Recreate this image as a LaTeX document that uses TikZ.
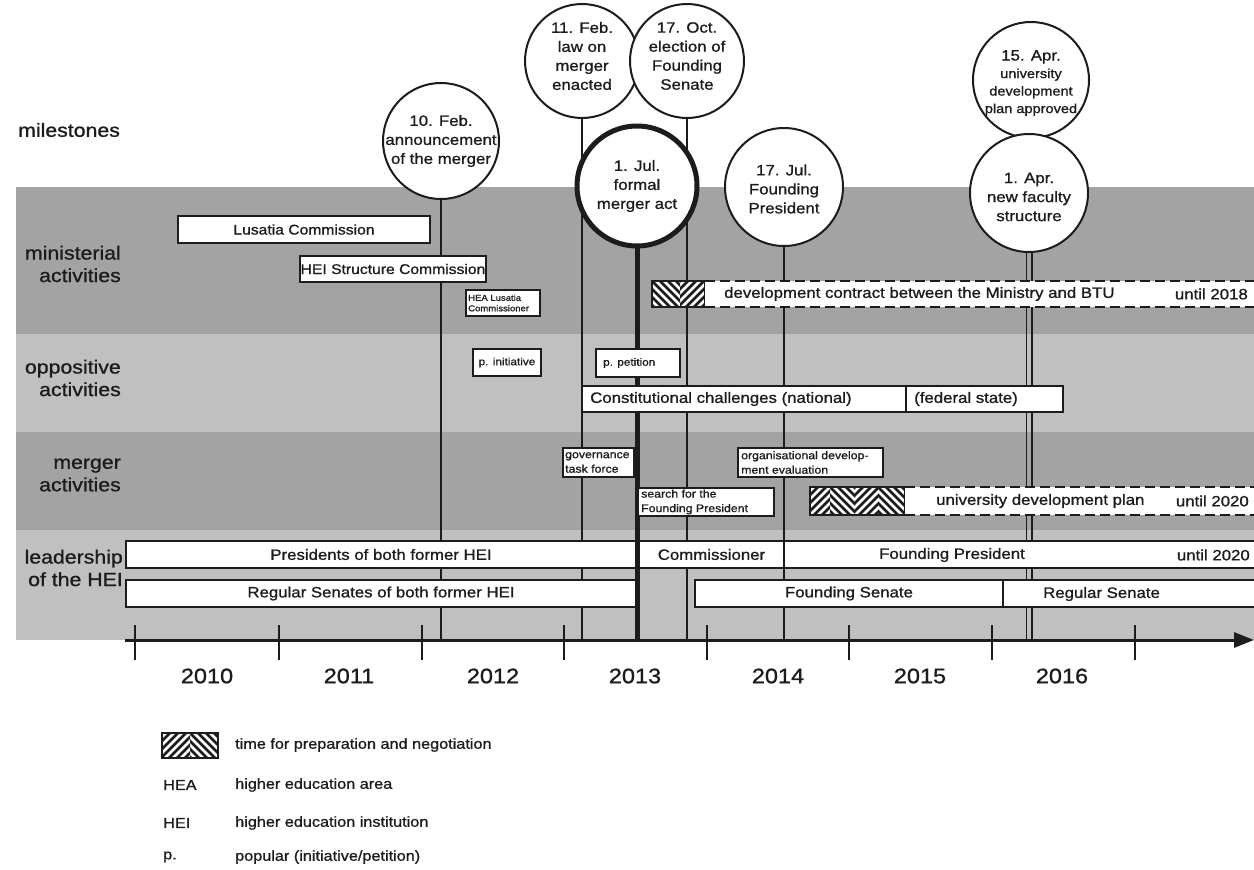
\documentclass[tikz,border=0pt]{standalone}
\usepackage{fontspec}
\setmainfont{Liberation Sans}[FakeStretch=1.12,FakeBold=1]
\usetikzlibrary{arrows.meta}
\pgfdeclarelayer{bg}
\pgfdeclarelayer{ln}
\pgfsetlayers{bg,ln,main}
\definecolor{dband}{RGB}{163,163,163}
\definecolor{lband}{RGB}{192,192,192}
\definecolor{ink}{RGB}{28,28,28}
\newcommand\fsz[2]{\fontsize{#1}{#2}\selectfont}
\newcommand\bx[7][]{\node[box,anchor=north west,minimum width={(#5-#3)*1pt},minimum height={(#6-#4)*1pt},#1] (#2) at (#3,#4) {#7};}
\newcommand\hatch[5]{%
 \begin{scope}
  \clip (#1,#2) rectangle (#3,#4);
  \fill[white] (#1,#2) rectangle (#3,#4);
  \foreach \ha/\hb/\hd in {#5}{%
   \begin{scope}
    \clip (\ha,#2) rectangle (\hb,#4);
    \foreach \hk in {-64,-56,...,144}{%
     \draw[line width=2.6pt,ink] ({\ha+\hk},#2) -- ++({\hd*(#4-#2)},{#4-#2});
    }
   \end{scope}
  }
 \end{scope}
 \draw[line width=1.6pt,ink] (#1,#2) rectangle (#3,#4);
}
\begin{document}
\begin{tikzpicture}[x=1pt,y=-1pt,
  every node/.append style={text=ink},
  box/.style={draw=ink,line width=1.8pt,fill=white,inner sep=0pt,outer sep=0pt,font=\fsz{15}{18}},
  circ/.style={draw=ink,line width=2pt,fill=white,circle,inner sep=0pt,outer sep=0pt},
  ctext/.style={align=center,font=\fsz{15}{19},inner sep=0pt},
  vline/.style={draw=ink,line width=1.8pt},
  rowlab/.style={align=right,anchor=east,inner sep=0pt,font=\fsz{19}{22.5}},
  txt/.style={inner sep=0pt,font=\fsz{15}{18}},
  small/.style={inner sep=0pt,align=left,anchor=west,font=\fsz{11}{14.5}},
  year/.style={inner sep=0pt,font=\fsz{21}{24}},
  leg/.style={anchor=west,inner sep=0pt,font=\fsz{14.5}{17}},
  dsh/.style={draw=ink,line width=2pt,dash pattern=on 10pt off 5pt},
  dbox/.style={fill=white,anchor=north west,inner sep=0pt,outer sep=0pt}]
\useasboundingbox (0,0) rectangle (1254,870);
% bands
\begin{pgfonlayer}{bg}
\fill[white] (0,0) rectangle (1254,870);
\fill[dband] (16,187) rectangle (1254,334);
\fill[lband] (16,334) rectangle (1254,432);
\fill[dband] (16,432) rectangle (1254,530);
\fill[lband] (16,530) rectangle (1254,640);
\end{pgfonlayer}
% row labels
\node[anchor=west,inner sep=0pt,font=\fsz{19}{22.5}] (lmil) at (18,130) {milestones};
\node[rowlab] (lmin) at (121,264) {ministerial\\activities};
\node[rowlab] (lopp) at (121,378) {oppositive\\activities};
\node[rowlab] (lmer) at (121,475) {merger\\activities};
\node[rowlab] (llea) at (123,568) {leadership\\of the HEI};
% milestone circles
\node[circ,minimum size=116pt] (c1) at (441,141) {};
\node[circ,minimum size=114pt] (c2) at (582,61) {};
\node[circ,minimum size=114pt] (c3) at (687,61) {};
\node[circ,minimum size=120pt,line width=5pt] (c4) at (637,186) {};
\node[circ,minimum size=118pt] (c5) at (784,187) {};
\node[circ,minimum size=116pt] (c6) at (1031,80) {};
\node[circ,minimum size=118pt] (c7) at (1029,193) {};
\node[ctext] (c1t) at (c1) {10. Feb.\\announcement\\of the merger};
\node[ctext] (c2t) at ([yshift=5pt]c2.center) {11. Feb.\\law on\\merger\\enacted};
\node[ctext] (c3t) at ([yshift=5pt]c3.center) {17. Oct.\\election of\\Founding\\Senate};
\node[ctext] (c4t) at (c4) {1. Jul.\\formal\\merger act};
\node[ctext] (c5t) at ([yshift=-2pt]c5.center) {17. Jul.\\Founding\\President};
\node[ctext,font=\fsz{13}{17.5}] (c6t) at ([yshift=-3pt]c6.center) {{\fsz{15}{17.5}15. Apr.}\\university\\development\\plan approved};
\node[ctext] (c7t) at ([yshift=-4pt]c7.center) {1. Apr.\\new faculty\\structure};
% axis coordinate and milestone lines
\coordinate (ax) at (0,640);
\begin{pgfonlayer}{ln}
\draw[vline] (c1.south) -- (c1.south |- ax);
\draw[vline] (c2.south) -- (c2.south |- ax);
\draw[vline] (c3.south) -- (c3.south |- ax);
\draw[vline,line width=5pt] (c4.south) -- (c4.south |- ax);
\draw[vline] (c5.south) -- (c5.south |- ax);
\draw[vline] ([xshift=-2.6pt]c7.south) -- ([xshift=-2.6pt]c7.south |- ax);
\draw[vline] ([xshift=2.6pt]c7.south) -- ([xshift=2.6pt]c7.south |- ax);
\end{pgfonlayer}
% ministerial activities
\bx[font=\fsz{14}{17}]{lus}{178}{216}{430}{243}{Lusatia Commission}
\bx[font=\fsz{14}{17}]{hsc}{300}{256}{486}{282}{HEI Structure Commission}
\bx[line width=1.5pt]{hea}{466}{290}{540}{316}{}
\node[small,font=\fsz{8.5}{10.5}] (heat) at ([xshift=2pt]hea.west) {HEA Lusatia\\Commissioner};
\hatch{652}{281}{705}{307}{652/680/1,680/705/-1}
\node[dbox,minimum width=553pt,minimum height=26pt] (dc) at (705,281) {};
\draw[dsh] (dc.north west) -- (dc.north east);
\draw[dsh] (dc.south west) -- (dc.south east);
\node[txt,anchor=west] (dct) at (724,294) {development contract between the Ministry and BTU};
\node[txt,anchor=east] (dcu) at (1248,294) {until 2018};
% oppositive activities
\bx[font=\fsz{10.5}{12}]{pin}{473}{349}{541}{376}{p. initiative}
\bx{ppe}{596}{349}{680}{377}{}
\node[small,font=\fsz{10.5}{12}] (ppet) at ([xshift=7pt]ppe.west) {p. petition};
\bx{con}{582}{386}{906}{412}{}
\node[txt,anchor=west] (cont) at ([xshift=8pt]con.west) {Constitutional challenges (national)};
\bx{fed}{906}{386}{1063}{412}{}
\node[txt,anchor=west] (fedt) at ([xshift=8pt]fed.west) {(federal state)};
% merger activities
\bx{gov}{563}{448}{634}{477}{}
\node[small] (govt) at ([xshift=2pt]gov.west) {governance\\task force};
\bx{org}{738}{448}{883}{477}{}
\node[small] (orgt) at ([xshift=3pt]org.west) {organisational develop-\\ment evaluation};
\bx{sea}{638}{488}{774}{516}{}
\node[small] (seat) at ([xshift=3pt]sea.west) {search for the\\Founding President};
\hatch{810}{487}{905}{515}{810/830/-1,830/855/1,855/878/-1,878/905/1}
\node[dbox,minimum width=353pt,minimum height=28pt] (udp) at (905,487) {};
\draw[dsh] (udp.north west) -- (udp.north east);
\draw[dsh] (udp.south west) -- (udp.south east);
\node[txt,anchor=west] (udpt) at (936,501) {university development plan};
\node[txt,anchor=east] (udpu) at (1249,501) {until 2020};
% leadership
\bx{pres}{126}{541}{636}{568}{Presidents of both former HEI}
\bx{comm}{639}{541}{784}{568}{Commissioner}
\bx{fpres}{784}{541}{1258}{568}{}
\node[txt] (fprest) at (952,555) {Founding President};
\node[txt,anchor=east] (fpu) at (1250,555) {until 2020};
\bx{rsen}{126}{580}{636}{607}{Regular Senates of both former HEI}
\bx{fsen}{695}{580}{1003}{607}{Founding Senate}
\bx{rs2}{1003}{580}{1258}{607}{}
\node[txt,anchor=west] (rs2t) at (1043,594) {Regular Senate};
% time axis
\coordinate (axs) at (125,640);
\coordinate (axe) at (1254,640);
\foreach \t in {135,279,422,564,707,849,992,1135}{\draw[ink,line width=1.4pt] (\t,625) -- (\t,660);}
\draw[ink,line width=3pt,-{Triangle[length=20pt,width=15pt]}] (axs) -- (axe);
\node[year] (y10) at (207,676) {2010};
\node[year] (y11) at (349,676) {2011};
\node[year] (y12) at (493,676) {2012};
\node[year] (y13) at (635,676) {2013};
\node[year] (y14) at (778,676) {2014};
\node[year] (y15) at (920,676) {2015};
\node[year] (y16) at (1062,676) {2016};
% legend
\hatch{162}{733}{218}{758}{162/190/-1,190/218/1}
\node[leg] (lg1) at (235,745) {time for preparation and negotiation};
\node[leg] (lg2a) at (163,785) {HEA};
\node[leg] (lg2) at (235,785) {higher education area};
\node[leg] (lg3a) at (163,823) {HEI};
\node[leg] (lg3) at (235,823) {higher education institution};
\node[leg] (lg4a) at (163,857) {p.};
\node[leg] (lg4) at (235,857) {popular (initiative/petition)};
\end{tikzpicture}
\end{document}
